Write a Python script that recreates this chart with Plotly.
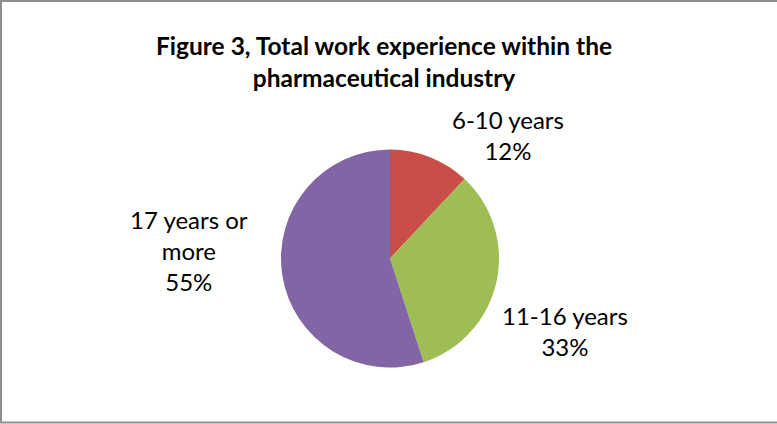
import plotly.graph_objects as go

categories = ["6-10 years", "11-16 years", "17 years or<br>more"]
values = [12, 33, 55]
colors = ["#C94E47", "#9EBD55", "#8165A5"]
title_text = "<b>Figure 3, Total work experience within the<br>pharmaceutical industry</b>"

W, H = 777, 424
cx, cy, r = 390, 258.5, 109

fig = go.Figure(go.Pie(
    labels=categories,
    values=values,
    sort=False,
    direction="clockwise",
    rotation=0,
    marker=dict(colors=colors, line=dict(width=0)),
    textinfo="none",
    hoverinfo="label+percent",
    showlegend=False,
    domain=dict(x=[(cx - 150) / W, (cx + 150) / W],
                y=[1 - (cy + r) / H, 1 - (cy - r) / H]),
))

label_pos = [(508, 135), (565, 331), (189, 251)]
total = sum(values)
for cat, v, (px, py) in zip(categories, values, label_pos):
    fig.add_annotation(
        x=px / W, y=1 - py / H, xref="paper", yref="paper",
        text=f"{cat}<br>{round(100 * v / total)}%",
        showarrow=False, xanchor="center", yanchor="middle", align="center",
        font=dict(family="Lato", size=24, color="#000000"),
    )

fig.add_annotation(
    x=384 / W, y=1 - 61 / H, xref="paper", yref="paper",
    text=title_text, showarrow=False, xanchor="center", yanchor="middle",
    align="center",
    font=dict(family="Lato", size=24.5, color="#000000"),
)

fig.add_shape(type="rect", xref="paper", yref="paper",
              x0=1 / W, x1=1.02, y0=1.5 / H, y1=1 - 1 / H,
              line=dict(color="#8E8E8E", width=2))

fig.update_layout(
    width=W, height=H,
    margin=dict(l=0, r=0, t=0, b=0),
    paper_bgcolor="white", plot_bgcolor="white",
)

fig.write_html("out.html",
               config={"displayModeBar": False},
               post_script="document.body.style.margin='0';document.body.style.overflow='hidden';")
